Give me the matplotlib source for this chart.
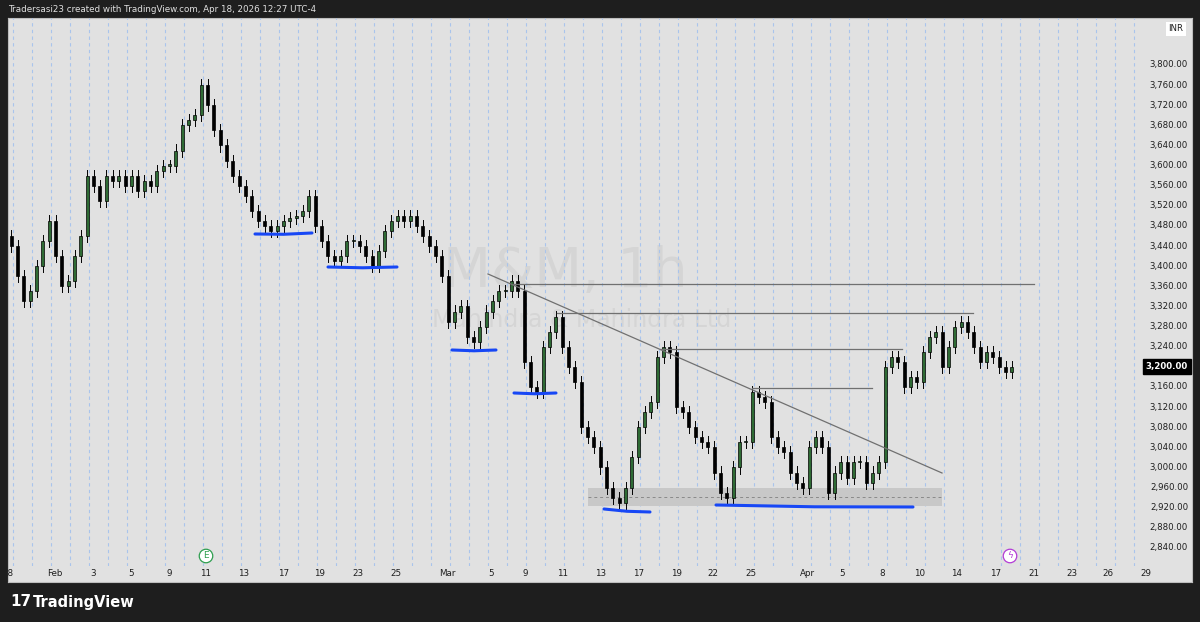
import matplotlib
matplotlib.use("Agg")
import matplotlib.pyplot as plt
from matplotlib.patches import Rectangle
import numpy as np

# ---- data: hourly-ish candles, 3 per trading day (closes) ----
closes = [3440,3380,3330, 3350,3400,3450, 3490,3420,3360, 3370,3420,3460,
          3580,3560,3530, 3580,3570,3580, 3560,3580,3550, 3570,3560,3590,
          3600,3600,3630, 3680,3690,3700, 3760,3720,3670, 3640,3610,3580,
          3560,3540,3510, 3490,3480,3470, 3480,3490,3495, 3500,3510,3540,
          3480,3450,3420, 3410,3420,3450, 3450,3440,3420, 3400,3430,3470,
          3490,3500,3490, 3500,3480,3460, 3440,3420,3380, 3290,3310,3320,
          3260,3250,3280, 3310,3330,3350, 3350,3370,3350, 3210,3160,3150,
          3240,3270,3300, 3240,3200,3170, 3080,3060,3040, 3000,2960,2940,
          2930,2960,3020, 3080,3110,3130, 3220,3240,3230, 3120,3110,3080,
          3060,3050,3040, 2990,2950,2940, 3000,3050,3050, 3150,3140,3130,
          3060,3040,3030, 2990,2970,2960, 3040,3060,3040, 2950,2990,3010,
          2980,3010,3010, 2970,2990,3010, 3200,3220,3210, 3160,3180,3170,
          3230,3260,3270, 3200,3240,3280, 3290,3270,3240, 3210,3230,3220,
          3200,3190,3200]
first_open = 3460
wick = [12]*len(closes)

price_ticks = list(range(2840, 3801, 40))
date_labels = ["28","Feb","3","5","9","11","13","17","19","23","25","Mar","5","9","11","13",
               "17","19","22","25","Apr","5","8","10","14","17","21","23","26","29"]
date_pos = [0,2.47,4.5,6.5,8.5,10.4,12.4,14.5,16.4,18.4,20.4,23.1,25.4,27.2,29.2,31.2,
            33.2,35.2,37.1,39.1,42.1,43.9,46,48,49.9,52,54,56,57.9,59.9]
last_price = 3200

W, H = 1200, 622
fig = plt.figure(figsize=(12, 6.22), dpi=100)
fig.patch.set_facecolor("#1e1e1e")
bg = fig.add_axes([8/W, 40/H, 1184/W, 564/H], zorder=-5)
bg.set_facecolor("#e1e1e1"); bg.set_xticks([]); bg.set_yticks([])
for s in bg.spines.values():
    s.set_color("#bdbdbd")
ax = fig.add_axes([8/W, 56/H, 1140/W, 548/H], zorder=1)
ax.set_facecolor("none")
ax.set_xlim(0, 60)
ax.set_ylim(2804.2, 3893.4)
for s in ax.spines.values():
    s.set_visible(False)
ax.set_xticks([]); ax.set_yticks([])

# day grid
for d in range(0, 60):
    ax.axvline(d + 0.25, color="#a9c4ec", lw=0.8, ls=(0, (3, 3)), zorder=1)

# candles
o = first_open
for i, c in enumerate(closes):
    x = i / 3 + 1 / 6
    hi = max(o, c) + wick[i]; lo = min(o, c) - wick[i]
    up = c >= o
    ax.plot([x, x], [lo, hi], color="black", lw=0.7, zorder=3)
    body = max(abs(c - o), 3)
    ax.add_patch(Rectangle((x - 0.08, min(o, c)), 0.16, body,
                           facecolor="#2f6b35" if up else "black", edgecolor="black",
                           lw=0.5, zorder=4))
    o = c

def px(x):
    return (x - 8) / 19
def pr(y):
    return 3800 - (y - 65) * 40 / 20.125

# watermark
ax.text(px(565), pr(272), "M&M, 1h", fontsize=40, color="#d5d5d5", ha="center", va="center", zorder=0.5)
ax.text(px(582), pr(320), "Mahindra & Mahindra Ltd", fontsize=17, color="#d5d5d5", ha="center", va="center", zorder=0.5)

# gray zone
ax.add_patch(Rectangle((px(588), pr(506)), px(942) - px(588), pr(488) - pr(506),
                       facecolor="#c8c8c8", edgecolor="none", zorder=1.5))
ax.plot([px(588), px(942)], [pr(497)] * 2, color="#8a8a8a", lw=0.7, ls=(0, (3, 3)), zorder=2)

# gray lines
gc = "#707070"
ax.plot([px(488), px(942)], [pr(274), pr(473)], color=gc, lw=0.9, zorder=5)
for x0, x1, y in [(513, 1034, 284), (557, 973, 313), (660, 902, 349), (752, 872, 388)]:
    ax.plot([px(x0), px(x1)], [pr(y)] * 2, color=gc, lw=0.9, zorder=5)

# blue lines
bc = "#1747f5"
for x0, x1, y0, y1 in [(255, 312, 234, 233), (328, 397, 267, 267), (452, 496, 350, 350),
                       (514, 556, 393, 393), (604, 650, 509, 512), (716, 913, 505, 507)]:
    ax.plot([px(x0), (px(x0) + px(x1)) / 2, px(x1)], [pr(y0), pr((y0 + y1) / 2 + 0.8), pr(y1)],
            color=bc, lw=2.2, solid_capstyle="round", zorder=6)

# price axis labels
xa = (1188 - 8) / 1140
for p in price_ticks:
    if p == last_price:
        continue
    ax.text(xa, p, f"{p:,}.00", transform=ax.get_yaxis_transform(), fontsize=6.2,
            ha="right", va="center", color="#1e1e1e", clip_on=False)
ax.text(xa - 0.004, pr(29), "INR", transform=ax.get_yaxis_transform(), fontsize=6.2,
        ha="right", va="center", color="#1e1e1e", clip_on=False,
        bbox=dict(boxstyle="square,pad=0.3", fc="white", ec="none"))
ax.text(xa, last_price, f"{last_price:,}.00", transform=ax.get_yaxis_transform(), fontsize=6.2,
        ha="right", va="center", color="white", fontweight="bold", clip_on=False,
        bbox=dict(boxstyle="square,pad=0.35", fc="black", ec="black"))

# date labels
for lab, d in zip(date_labels, date_pos):
    fig.text((8 + 19 * d) / W, 1 - 573 / H, lab, fontsize=6.3, ha="center", va="center", color="#1e1e1e")

# icons
for xc, col, t in [(206, "#2e9e4f", "E"), (1010, "#b33bd6", "ϟ")]:
    fig.text(xc / W, 1 - 556 / H, t, fontsize=6.5, ha="center", va="center", color=col,
             bbox=dict(boxstyle="circle,pad=0.25", fc="white", ec=col, lw=0.9))

# header & footer
fig.text(8 / W, 1 - 9 / H, "Tradersasi23 created with TradingView.com, Apr 18, 2026 12:27 UTC-4",
         fontsize=6.3, color="#e0e0e0", va="center", ha="left")
fig.text(10 / W, 1 - 602 / H, "17", fontsize=11, color="white", fontweight="bold", va="center")
fig.text(33 / W, 1 - 602 / H, "TradingView", fontsize=10.5, color="white", fontweight="bold", va="center")

fig.savefig("out.png", dpi=100, facecolor=fig.get_facecolor())
